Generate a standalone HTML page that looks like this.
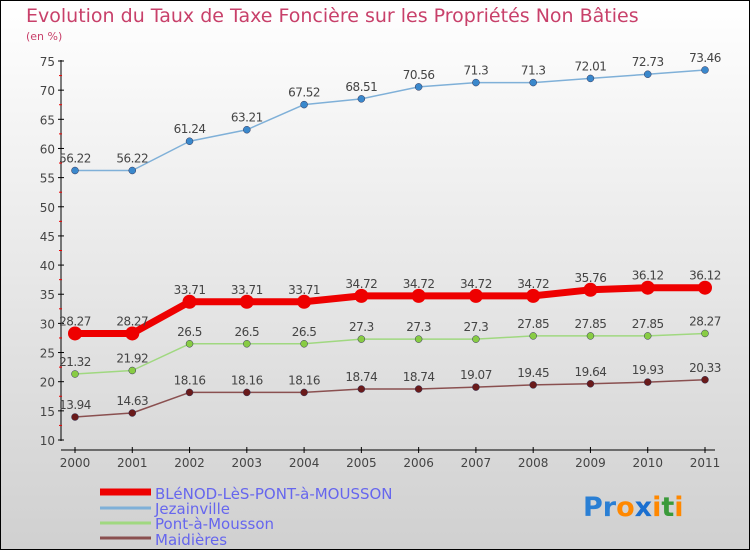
<!DOCTYPE html>
<html><head><meta charset="utf-8"><style>
body{margin:0}
#c{width:750px;height:550px;position:relative;font-family:"DejaVu Sans","Liberation Sans",sans-serif;}
</style></head><body>
<div id="c">
<svg id="s" width="750" height="550" xmlns="http://www.w3.org/2000/svg">
<defs><linearGradient id="bg" x1="0" y1="0" x2="0" y2="1"><stop offset="0" stop-color="#ffffff"/><stop offset="1" stop-color="#d0d0d0"/></linearGradient></defs>
<rect x="0.5" y="0.5" width="749" height="549" fill="url(#bg)" stroke="#000"/>
<text x="26" y="22" font-size="19" fill="#c8406a">Evolution du Taux de Taxe Foncière sur les Propriétés Non Bâties</text>
<text x="26" y="40" font-size="11" fill="#c8406a">(en %)</text>
<g id="axes"></g><g id="series"></g>
<g>
<line x1="100" y1="492" x2="151" y2="492" stroke="#ee0000" stroke-width="7"/>
<text x="155" y="499" font-size="15" fill="#6666ee">BLéNOD-LèS-PONT-à-MOUSSON</text>
<line x1="100" y1="508" x2="151" y2="508" stroke="#7fb0d8" stroke-width="3"/>
<text x="155" y="514" font-size="15" fill="#6666ee">Jezainville</text>
<line x1="100" y1="523" x2="151" y2="523" stroke="#a0d880" stroke-width="3"/>
<text x="155" y="529" font-size="15" fill="#6666ee">Pont-à-Mousson</text>
<line x1="100" y1="538" x2="151" y2="538" stroke="#8a5050" stroke-width="3"/>
<text x="155" y="545" font-size="15" fill="#6666ee">Maidières</text>
</g>
<text x="583" y="516" font-size="27" font-weight="bold"><tspan fill="#2a7fd4">Pr</tspan><tspan fill="#ff8800">o</tspan><tspan fill="#1a6fd0">x</tspan><tspan fill="#ff8800">i</tspan><tspan fill="#3a9a3a">t</tspan><tspan fill="#ff8800">i</tspan></text>
</svg></div>
<script>
const years=[2000,2001,2002,2003,2004,2005,2006,2007,2008,2009,2010,2011];
const blenod=[28.27,28.27,33.71,33.71,33.71,34.72,34.72,34.72,34.72,35.76,36.12,36.12];
const jezainville=[56.22,56.22,61.24,63.21,67.52,68.51,70.56,71.3,71.3,72.01,72.73,73.46];
const pont=[21.32,21.92,26.5,26.5,26.5,27.3,27.3,27.3,27.85,27.85,27.85,28.27];
const maidieres=[13.94,14.63,18.16,18.16,18.16,18.74,18.74,19.07,19.45,19.64,19.93,20.33];
const yTicks=[10,15,20,25,30,35,40,45,50,55,60,65,70,75];
const NS="http://www.w3.org/2000/svg";
const X=i=>75+i*(630/(years.length-1));
const Y=v=>440-(v-10)*(379/65);
function mk(t,a,p){const e=document.createElementNS(NS,t);for(const k in a)e.setAttribute(k,a[k]);p.appendChild(e);return e;}
const ax=document.getElementById('axes');
mk('line',{x1:61,y1:60,x2:61,y2:441,stroke:'#000'},ax);
mk('line',{x1:61,y1:450,x2:715,y2:450,stroke:'#000'},ax);
yTicks.forEach(v=>{const y=Y(v);
 mk('line',{x1:58,y1:y,x2:64,y2:y,stroke:'#000'},ax);
 if(v<75)mk('line',{x1:59,y1:Y(v+2.5),x2:62,y2:Y(v+2.5),stroke:'#e00'},ax);
 const t=mk('text',{x:55,y:y+5,'font-size':12,fill:'#444','text-anchor':'end'},ax);t.textContent=v;
 
 
});
years.forEach((yr,i)=>{const x=X(i);
 mk('line',{x1:x,y1:447,x2:x,y2:453,stroke:'#000'},ax);
 const t=mk('text',{x:x,y:467,'font-size':12,fill:'#444','text-anchor':'middle'},ax);t.textContent=yr;
 
 
});
const sg=document.getElementById('series');
function draw(name,vals,col,w,r,dot){
 const g=mk('g',{},sg);
 
 
 mk('polyline',{points:vals.map((v,i)=>X(i)+','+Y(v)).join(' '),fill:'none',stroke:col,'stroke-width':w,'stroke-linejoin':'round'},g);
 vals.forEach((v,i)=>{
  const c=mk('circle',{cx:X(i),cy:Y(v),r:r,fill:dot,stroke:w>3?'none':'#335',"stroke-width":0.5},g);
  
  
  const t=mk('text',{x:X(i),y:Y(v)-8,'font-size':12,fill:'#444','text-anchor':'middle','letter-spacing':'-0.5'},g);t.textContent=v;
  
  
 });
}
draw('jezainville',jezainville,'#7fb0d8',1.5,3.5,'#3a88cc');
draw('pont-a-mousson',pont,'#a0d880',1.5,3.5,'#88cc44');
draw('maidieres',maidieres,'#8a5050',1.5,3.5,'#6a1a1a');
draw('blenod',blenod,'#ee0000',7,7,'#ee0000');
</script>
</body></html>
